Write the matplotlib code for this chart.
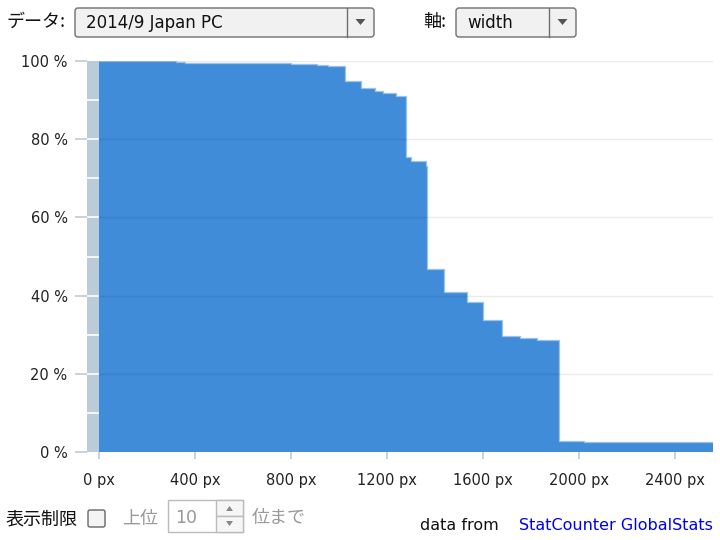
import numpy as np
import matplotlib
matplotlib.use('Agg')
import matplotlib.pyplot as plt
from matplotlib.patches import FancyBboxPatch, Polygon, Rectangle

plt.rcParams['font.family'] = ['Noto Sans CJK JP', 'DejaVu Sans']
LATIN = ['DejaVu Sans', 'Noto Sans CJK JP']

# step starts (px) and share of screens at least that wide (%)
widths = [0, 320, 360, 800, 816, 908, 954, 1024, 1093, 1152, 1185, 1240,
          1280, 1300, 1362, 1366, 1440, 1536, 1600, 1680, 1754, 1828, 1920,
          2021, 2132, 2560]
share = [100.0, 99.8, 99.4, 99.3, 99.2, 99.0, 98.8, 95.0, 93.0, 92.3, 91.8,
         91.0, 75.5, 74.4, 73.2, 46.8, 41.0, 38.3, 33.8, 29.7, 29.2, 28.6,
         2.9, 2.6, 2.5, 2.5]
x_ticks = [0, 400, 800, 1200, 1600, 2000, 2400]
y_ticks = [0, 20, 40, 60, 80, 100]

data_label = '2014/9 Japan PC'
axis_label = 'width'

fig = plt.figure(figsize=(7.2, 5.4), dpi=100)
W, H = 720, 540

# main plot
ax = fig.add_axes([87 / W, 1 - 452 / H, (713 - 87) / W, (452 - 61) / H])
ax.set_xlim(-50, 2560)
ax.set_ylim(0, 100)

# grey band left of zero with white separators
ax.axvspan(-50, 0, color='#bccbd9', lw=0, zorder=1)
for v in range(10, 100, 10):
    ax.plot([-50, 0], [v, v], color='white', lw=1.2, zorder=2)

ax.fill_between(widths, share, step='post', color='#3a88d8', alpha=0.97,
                lw=0, zorder=2)
ax.step(widths, share, where='post', color='#9cc2ea', lw=0.9, zorder=3)

# grid lines
for v in y_ticks[1:]:
    ax.axhline(v, xmin=50 / 2610, color='black', alpha=0.08, lw=1, zorder=4)

for s in ax.spines.values():
    s.set_visible(False)

ax.set_yticks(y_ticks)
ax.set_yticklabels(['%d %%' % v for v in y_ticks], family=LATIN)
ax.set_xticks(x_ticks)
ax.set_xticklabels(['%d px' % v for v in x_ticks], family=LATIN)
ax.tick_params(axis='y', length=9, width=1.2, color='#bccbd9', pad=5,
               labelsize=10.5, labelcolor='#222222')
ax.tick_params(axis='x', length=5, width=1.2, color='#bccbd9', pad=10,
               labelsize=10.5, labelcolor='#222222')

# overlay for the form controls
ui = fig.add_axes([0, 0, 1, 1], zorder=-1)
ui.set_xlim(0, W)
ui.set_ylim(H, 0)
ui.axis('off')


def dropdown(x0, x1, div, text):
    ui.add_patch(FancyBboxPatch((x0, 8), x1 - x0, 29,
                                boxstyle='round,pad=0,rounding_size=3',
                                fc='#f1f1f1', ec='#6f6f6f', lw=1))
    ui.plot([div, div], [8, 37], color='#6f6f6f', lw=1)
    cx = (div + x1) / 2
    ui.add_patch(Polygon([[cx - 5, 19], [cx + 5, 19], [cx, 25]],
                         closed=True, fc='#555555', ec='none'))
    ui.text(x0 + 11, 23, text, fontsize=12, va='center', ha='left',
            color='#111111', family=LATIN)


ui.text(7, 22, 'データ:', fontsize=13, va='center', ha='left', color='#111111')
dropdown(75, 374, 347, data_label)
ui.text(423, 22, '軸:', fontsize=13, va='center', ha='left', color='#111111')
dropdown(456, 576, 549, axis_label)

# bottom controls
ui.text(6, 519, '表示制限', fontsize=13, va='center', ha='left', color='#111111')
ui.add_patch(FancyBboxPatch((88, 510), 17, 17,
                            boxstyle='round,pad=0,rounding_size=2',
                            fc='#f4f4f4', ec='#666666', lw=1))
ui.text(122, 519, '上位', fontsize=13, va='center', ha='left', color='#999999')
ui.add_patch(Rectangle((168, 500), 75, 32, fc='white', ec='#bbbbbb', lw=1))
ui.add_patch(Rectangle((216, 500), 27, 16, fc='#f6f6f6', ec='#bbbbbb', lw=1))
ui.add_patch(Rectangle((216, 516), 27, 16, fc='#f6f6f6', ec='#bbbbbb', lw=1))
ui.add_patch(Polygon([[226, 511], [233, 511], [229.5, 506]], fc='#888888', ec='none'))
ui.add_patch(Polygon([[226, 521], [233, 521], [229.5, 526]], fc='#888888', ec='none'))
ui.text(175, 518, '10', fontsize=12.5, va='center', ha='left', color='#999999',
        family=LATIN)
ui.text(252, 518, '位まで', fontsize=13, va='center', ha='left', color='#999999')

ui.text(420, 525, 'data from', fontsize=11.5, va='center', ha='left',
        color='#111111', family=LATIN)
ui.text(713, 525, 'StatCounter GlobalStats', fontsize=11.5, va='center',
        ha='right', color='#0000ee', family=LATIN)

fig.savefig('out.png', dpi=100)
